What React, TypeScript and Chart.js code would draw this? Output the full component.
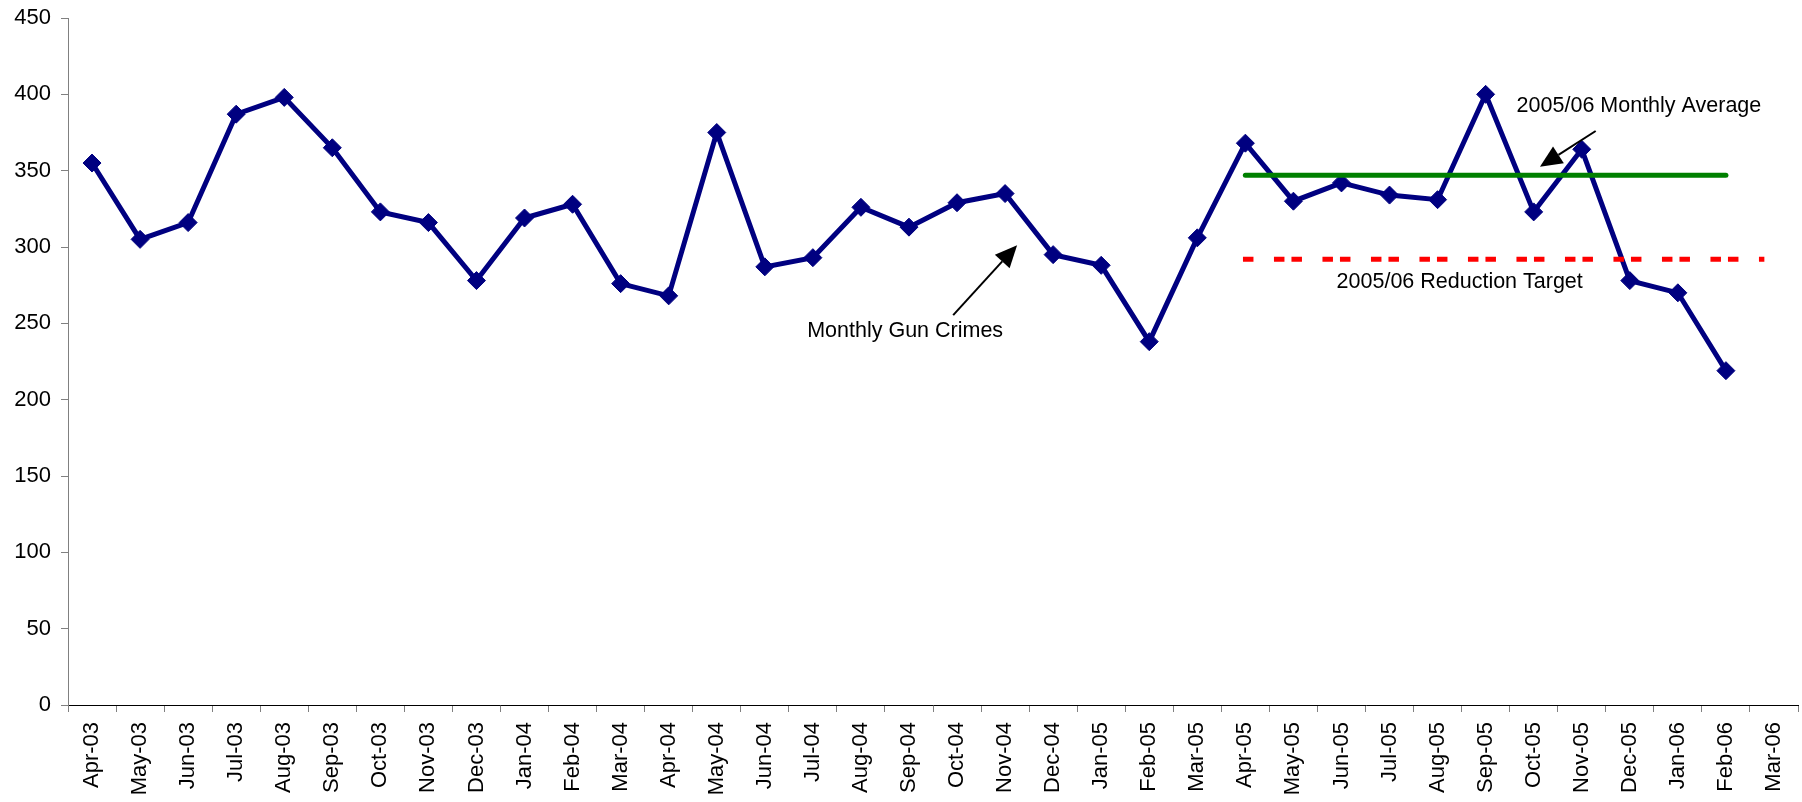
import React, { useEffect, useRef } from "react";
import { Chart, registerables } from "chart.js";

Chart.register(...registerables);

const months = [
  "Apr-03", "May-03", "Jun-03", "Jul-03", "Aug-03", "Sep-03", "Oct-03", "Nov-03", "Dec-03",
  "Jan-04", "Feb-04", "Mar-04", "Apr-04", "May-04", "Jun-04", "Jul-04", "Aug-04", "Sep-04",
  "Oct-04", "Nov-04", "Dec-04", "Jan-05", "Feb-05", "Mar-05", "Apr-05", "May-05", "Jun-05",
  "Jul-05", "Aug-05", "Sep-05", "Oct-05", "Nov-05", "Dec-05", "Jan-06", "Feb-06", "Mar-06",
];

const gunCrimes: (number | null)[] = [
  355, 305, 316, 387, 398, 365, 323, 316, 278,
  319, 328, 276, 268, 375, 287, 293, 326, 313,
  329, 335, 295, 288, 238, 306, 368, 330, 342,
  334, 331, 400, 323, 364, 278, 270, 219, null,
];

const yTicks = [0, 50, 100, 150, 200, 250, 300, 350, 400, 450];

// 2005/06 monthly average line (value and category span)
const averageValue = 347;
const averageSpan = [24, 34];

// 2005/06 reduction target line (value and category span)
const targetValue = 292;
const targetSpan = [23.95, 34.8];

// Annotation texts anchored in data units (category index, value)
const noteTexts = ["Monthly Gun Crimes", "2005/06 Monthly Average", "2005/06 Reduction Target"];
const noteX = [16.92, 32.19, 28.46];
const noteY = [245, 392.5, 277];

// Arrows: tail and tip in data units
const arrowTailX = [17.92, 31.29];
const arrowTailY = [255.4, 376];
const arrowTipX = [19.25, 30.13];
const arrowTipY = [301.2, 352.5];

const FONT = '"Liberation Sans", Arial, Helvetica, sans-serif';

const annotationPlugin = {
  id: "notes",
  afterDatasetsDraw(chart: any) {
    const xs = chart.scales.xl;
    const ys = chart.scales.y;
    const ctx = chart.ctx;
    ctx.save();
    ctx.fillStyle = "#000";
    ctx.font = `21.5px ${FONT}`;
    ctx.textAlign = "center";
    ctx.textBaseline = "middle";
    noteTexts.forEach((t, i) => {
      ctx.fillText(t, xs.getPixelForValue(noteX[i]), ys.getPixelForValue(noteY[i]));
    });
    for (let i = 0; i < arrowTailX.length; i++) {
      const x0 = xs.getPixelForValue(arrowTailX[i]);
      const y0 = ys.getPixelForValue(arrowTailY[i]);
      const x1 = xs.getPixelForValue(arrowTipX[i]);
      const y1 = ys.getPixelForValue(arrowTipY[i]);
      const ang = Math.atan2(y1 - y0, x1 - x0);
      const headLen = 22;
      const headHalf = 10;
      const bx = x1 - Math.cos(ang) * headLen;
      const by = y1 - Math.sin(ang) * headLen;
      ctx.strokeStyle = "#000";
      ctx.lineWidth = 2;
      ctx.beginPath();
      ctx.moveTo(x0, y0);
      ctx.lineTo(bx, by);
      ctx.stroke();
      ctx.beginPath();
      ctx.moveTo(x1, y1);
      ctx.lineTo(bx + Math.sin(ang) * headHalf, by - Math.cos(ang) * headHalf);
      ctx.lineTo(bx - Math.sin(ang) * headHalf, by + Math.cos(ang) * headHalf);
      ctx.closePath();
      ctx.fill();
    }
    ctx.restore();
  },
};

export default function App() {
  const canvasRef = useRef<HTMLCanvasElement | null>(null);

  useEffect(() => {
    const canvas = canvasRef.current;
    if (!canvas) return;
    const chart = new Chart(canvas, {
      type: "line",
      data: {
        labels: months,
        datasets: [
          {
            label: "Monthly Gun Crimes",
            data: gunCrimes,
            xAxisID: "x",
            yAxisID: "y",
            borderColor: "#000080",
            backgroundColor: "#000080",
            borderWidth: 5,
            tension: 0,
            pointStyle: "rectRot",
            pointRadius: 9,
            pointBorderWidth: 1,
            pointBackgroundColor: "#000080",
            pointBorderColor: "#000080",
            spanGaps: false,
            order: 3,
          },
          {
            label: "2005/06 Monthly Average",
            data: averageSpan.map((x) => ({ x, y: averageValue })),
            xAxisID: "xl",
            yAxisID: "y",
            borderColor: "#008000",
            borderWidth: 5,
            borderCapStyle: "round",
            pointRadius: 0,
            order: 1,
          },
          {
            label: "2005/06 Reduction Target",
            data: targetSpan.map((x) => ({ x, y: targetValue })),
            xAxisID: "xl",
            yAxisID: "y",
            borderColor: "#FF0000",
            borderWidth: 5,
            borderDash: [10.5, 20.5, 10.5, 7],
            borderCapStyle: "butt",
            pointRadius: 0,
            order: 2,
          },
        ] as any,
      },
      options: {
        animation: false,
        responsive: true,
        maintainAspectRatio: false,
        layout: { autoPadding: false, padding: { top: 18, right: 4, left: 0, bottom: 0 } },
        plugins: {
          legend: { display: false },
          tooltip: { enabled: false },
        },
        scales: {
          x: {
            type: "category",
            offset: true,
            grid: {
              offset: true,
              drawOnChartArea: false,
              drawTicks: true,
              tickLength: 7,
              color: "#808080",
            },
            border: { display: true, color: "#000000", width: 1 },
            ticks: {
              autoSkip: false,
              minRotation: 90,
              maxRotation: 90,
              padding: 10,
              color: "#000",
              font: { family: FONT, size: 22 },
            },
            afterFit: (scale: any) => {
              scale.height = 97;
              scale.paddingLeft = 0;
              scale.paddingRight = 0;
            },
          },
          xl: {
            type: "linear",
            display: false,
            min: -0.5,
            max: 35.5,
          },
          y: {
            type: "linear",
            min: 0,
            max: 450,
            afterBuildTicks: (scale: any) => {
              scale.ticks = yTicks.map((v) => ({ value: v }));
            },
            grid: {
              drawOnChartArea: false,
              drawTicks: true,
              tickLength: 7,
              color: "#808080",
            },
            border: { display: true, color: "#808080", width: 1 },
            ticks: {
              padding: 10,
              color: "#000",
              font: { family: FONT, size: 22 },
            },
            afterFit: (scale: any) => {
              scale.width = 68;
              scale.paddingTop = 0;
              scale.paddingBottom = 0;
            },
          },
        },
      } as any,
      plugins: [annotationPlugin],
    });
    return () => chart.destroy();
  }, []);

  return (
    <div style={{ position: "fixed", left: 0, top: 0, width: 1802, height: 802, background: "#fff" }}>
      <canvas ref={canvasRef} />
    </div>
  );
}
